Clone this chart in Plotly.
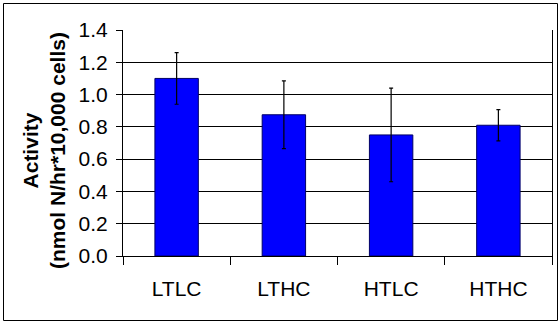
import plotly.graph_objects as go

categories = ["LTLC", "LTHC", "HTLC", "HTHC"]
activity = [1.10, 0.875, 0.75, 0.81]
errors = [0.16, 0.21, 0.29, 0.097]
y_ticks = [0.0, 0.2, 0.4, 0.6, 0.8, 1.0, 1.2, 1.4]
y_tick_labels = ["0.0", "0.2", "0.4", "0.6", "0.8", "1.0", "1.2", "1.4"]

W, H = 560, 323
L, R, T, B = 123, 8, 30, 67
pw, ph = W - L - R, H - T - B

def px_x(x):
    return (x - L) / pw

def px_y(y):
    return (H - B - y) / ph

FONT = "Arial, Liberation Sans, sans-serif"

fig = go.Figure(
    go.Bar(
        x=categories,
        y=activity,
        marker=dict(color="#0000FF", line=dict(color="#000066", width=1)),
        error_y=dict(type="data", array=errors, visible=True,
                     color="black", thickness=1.2, width=2),
    )
)

fig.update_layout(
    width=W, height=H,
    margin=dict(l=L, r=R, t=T, b=B, pad=0),
    paper_bgcolor="white", plot_bgcolor="white",
    bargap=0.595,
    showlegend=False,
    font=dict(family=FONT, color="black", size=21),
)

fig.update_xaxes(
    type="category",
    tickson="boundaries",
    ticks="outside", ticklen=8, tickwidth=1, tickcolor="black",
    showline=True, linecolor="black", linewidth=1,
    showgrid=False,
    tickfont=dict(family=FONT, size=21, color="black"),
    ticklabelstandoff=14,
)

fig.update_yaxes(
    range=[0, 1.4],
    tickvals=y_ticks, ticktext=y_tick_labels,
    ticks="outside", ticklen=6, tickwidth=1, tickcolor="black",
    showline=True, linecolor="black", linewidth=1, mirror=True,
    showgrid=True, gridcolor="black", gridwidth=1,
    zeroline=False,
    tickfont=dict(family=FONT, size=21, color="black"),
    ticklabelstandoff=4,
)

fig.add_annotation(
    xref="paper", yref="paper",
    x=px_x(44), y=px_y(151),
    text="<b>Activity</b><br><b>(nmol N/hr*10,000 cells)</b>",
    textangle=-90, showarrow=False,
    font=dict(family=FONT, size=21, color="black"),
    xanchor="center", yanchor="middle",
)

fig.add_shape(
    type="rect", xref="paper", yref="paper",
    x0=px_x(3.5), x1=px_x(557.5), y0=px_y(320.5), y1=px_y(3.5),
    line=dict(color="black", width=1), fillcolor="rgba(0,0,0,0)",
    layer="above",
)

fig.write_html("out.html")
